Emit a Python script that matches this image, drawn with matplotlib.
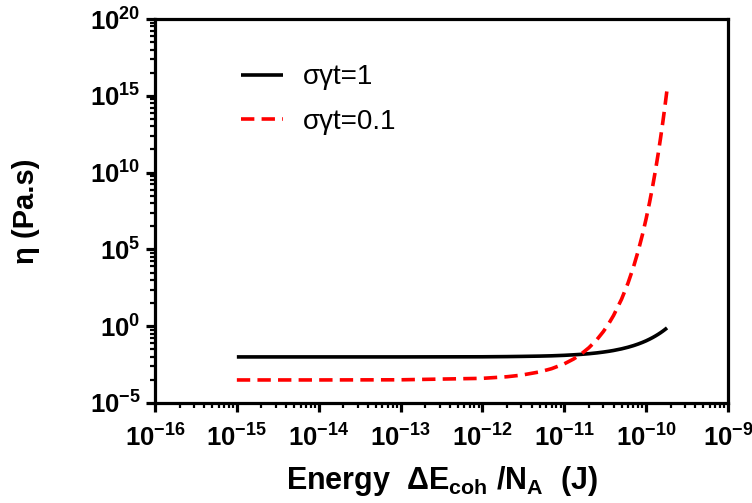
import numpy as np
import matplotlib
matplotlib.use("Agg")
import matplotlib.pyplot as plt
from matplotlib.ticker import FixedLocator, NullFormatter

plt.rcParams['font.family'] = ['Liberation Sans', 'DejaVu Sans']
plt.rcParams['mathtext.fontset'] = 'custom'
plt.rcParams['mathtext.rm'] = 'Liberation Sans:bold'
plt.rcParams['mathtext.bf'] = 'Liberation Sans:bold'
plt.rcParams['mathtext.it'] = 'Liberation Sans:bold'
plt.rcParams['mathtext.default'] = 'bf'

# ---- data ----
energy = [1e-15, 1e-14, 1e-13, 1e-12, 2e-12, 3e-12, 5e-12, 7e-12, 1e-11, 1.3e-11,
          1.6e-11, 2e-11, 2.5e-11, 3e-11, 3.5e-11, 4e-11, 5e-11, 6e-11, 7e-11, 8e-11,
          9e-11, 1e-10, 1.1e-10, 1.2e-10, 1.3e-10, 1.4e-10, 1.5e-10, 1.6e-10, 1.7e-10, 1.8e-10]
eta_sgt1 = [1.00e-2, 1.00e-2, 1.00e-2, 1.02e-2, 1.05e-2, 1.08e-2, 1.13e-2, 1.18e-2, 1.27e-2, 1.37e-2,
            1.47e-2, 1.62e-2, 1.83e-2, 2.07e-2, 2.33e-2, 2.63e-2, 3.35e-2, 4.27e-2, 5.43e-2, 6.92e-2,
            8.81e-2, 0.112, 0.143, 0.182, 0.232, 0.295, 0.376, 0.479, 0.610, 0.776]
eta_sgt01 = [3.16e-4, 3.17e-4, 3.24e-4, 4.03e-4, 5.13e-4, 6.53e-4, 1.06e-3, 1.72e-3, 3.55e-3, 7.33e-3,
             1.51e-2, 3.98e-2, 0.133, 0.447, 1.50, 5.01, 56.2, 631, 7.08e3, 7.94e4,
             8.91e5, 1.0e7, 1.12e8, 1.26e9, 1.41e10, 1.58e11, 1.78e12, 2.0e13, 2.24e14, 2.51e15]
series_labels = ['σγt=1', 'σγt=0.1']
x_ticks = [1e-16, 1e-15, 1e-14, 1e-13, 1e-12, 1e-11, 1e-10, 1e-9]
x_tick_labels = [r'$10^{-16}$', r'$10^{-15}$', r'$10^{-14}$', r'$10^{-13}$',
                 r'$10^{-12}$', r'$10^{-11}$', r'$10^{-10}$', r'$10^{-9}$']
y_ticks = [1e-5, 1e0, 1e5, 1e10, 1e15, 1e20]
y_tick_labels = [r'$10^{-5}$', r'$10^{0}$', r'$10^{5}$', r'$10^{10}$', r'$10^{15}$', r'$10^{20}$']

fig = plt.figure(figsize=(7.52, 5.03), dpi=100)
ax = fig.add_axes([155/752, 1-403/503, (728-155)/752, (403-19)/503])

ax.plot(energy, eta_sgt1, color='black', lw=2.6, solid_capstyle='butt', label=series_labels[0])
ax.plot(energy, eta_sgt01, color='#ff0000', lw=2.6, linestyle=(0, (3.7, 2.0)),
        dash_capstyle='butt', label=series_labels[1])

ax.set_xscale('log')
ax.set_yscale('log')
ax.set_xlim(1e-16, 1e-9)
ax.set_ylim(1e-5, 1e20)

ax.xaxis.set_major_locator(FixedLocator(x_ticks))
ax.set_xticklabels(x_tick_labels)
xminor = [m * 10.0**e for e in range(-16, -9) for m in range(2, 10)]
ax.xaxis.set_minor_locator(FixedLocator(xminor))
ax.xaxis.set_minor_formatter(NullFormatter())

ax.yaxis.set_major_locator(FixedLocator(y_ticks))
ax.set_yticklabels(y_tick_labels)
yminor = [10.0**(e + 5*np.log10(m)) for e in range(-5, 20, 5) for m in range(2, 10)]
ax.yaxis.set_minor_locator(FixedLocator(yminor))
ax.yaxis.set_minor_formatter(NullFormatter())

for s in ax.spines.values():
    s.set_linewidth(2.3)
ax.tick_params(which='major', direction='out', length=6.5, width=2.3, labelsize=18.5)
ax.tick_params(axis='x', which='major', pad=9)
ax.tick_params(axis='y', which='major', pad=4)
ax.tick_params(which='minor', direction='out', length=3.5, width=1.6)

ax.set_xlabel('Energy  ΔE$_{coh}$ /N$_{A}$  (J)', fontsize=22, fontweight='bold', labelpad=9)
ax.set_ylabel('η (Pa.s)', fontsize=21, fontweight='bold', labelpad=36)

leg = ax.legend(frameon=False, fontsize=20, loc='upper left',
                bbox_to_anchor=(0.150, 0.882), borderaxespad=0, borderpad=0,
                handlelength=1.5, handletextpad=0.72, labelspacing=0.67)

fig.savefig('out.png', dpi=100)
